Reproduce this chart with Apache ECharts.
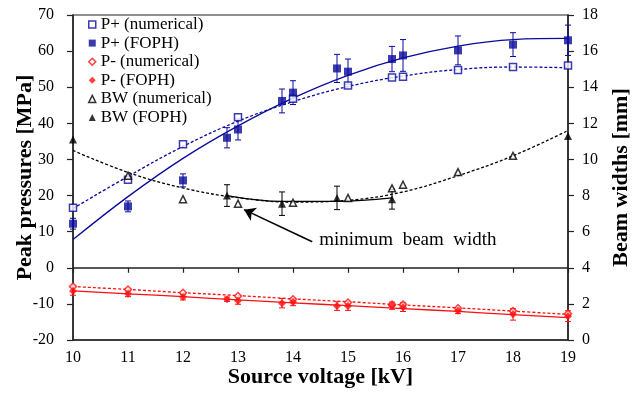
<!DOCTYPE html>
<html>
<head>
<meta charset="utf-8">
<script src="https://cdn.jsdelivr.net/npm/echarts@6/dist/echarts.min.js"></script>
<style>html,body{margin:0;padding:0;background:#fff;}#c{width:634px;height:401px;}</style>
</head>
<body>
<div id="c"></div>
<script>
// ---- Data ----
const voltsNum  = [10, 11, 12, 13, 14, 15, 15.8, 16, 17, 18, 19];
const voltsFoph = [10, 11, 12, 12.8, 13, 13.8, 14, 14.8, 15, 15.8, 16, 17, 18, 19];
const voltsFit  = [10, 11, 12, 13, 14, 15, 16, 17, 18, 19];

const pPlusNum   = [16.6, 24.4, 34.2, 41.7, 46.8, 50.5, 52.7, 52.9, 54.8, 55.6, 56.0];
const pPlusFoph  = [12.2, 17.0, 24.2, 36.0, 38.3, 46.2, 48.5, 55.2, 54.3, 57.8, 58.8, 60.2, 61.8, 63.0];
const pPlusFophErr = [1.5, 1.5, 1.8, 2.8, 2.9, 3.3, 3.3, 3.9, 3.5, 3.5, 4.4, 4.0, 3.3, 4.2];
const pPlusNumFit  = [16.4, 25.3, 33.6, 40.6, 46.0, 50.2, 53.1, 54.9, 55.6, 55.4];
const pPlusFophFit = [7.8, 19.7, 30.3, 39.3, 47.0, 53.3, 58.1, 61.4, 63.2, 63.5];

const pMinusNum  = [-5.2, -6.0, -6.9, -7.8, -8.7, -9.6, -10.2, -10.2, -11.2, -12.0, -12.7];
const pMinusFoph = [-6.4, -7.2, -8.1, -8.7, -9.1, -9.8, -9.5, -10.6, -10.6, -10.5, -10.9, -11.9, -12.9, -13.4];
const pMinusFophErr = [1.2, 0.8, 0.8, 0.6, 1.0, 1.3, 1.0, 1.2, 1.2, 1.0, 1.2, 0.8, 1.6, 1.5];
const pMinusNumFit  = [-5.2, -6.0, -6.9, -7.7, -8.6, -9.4, -10.3, -11.1, -12.0, -12.9];
const pMinusFophFit = [-6.4, -7.2, -8.0, -8.9, -9.7, -10.5, -11.3, -12.1, -13.0, -13.8];

const voltsBwNum = [11, 12, 13, 14, 15, 15.8, 16, 17, 18];
const bwNum      = [9.1, 7.8, 7.55, 7.6, 7.87, 8.4, 8.6, 9.3, 10.2];
const voltsBwFoph = [10, 12.8, 13.8, 14.8, 15.8, 19];
const bwFoph      = [11.1, 8.0, 7.55, 7.87, 7.8, 11.3];
const voltsBwErr  = [12.8, 13.8, 14.8, 15.8];
const bwErrMid    = [8.0, 7.55, 7.87, 7.8];
const bwErr       = [0.6, 0.65, 0.65, 0.55];
const bwNumFit  = [10.5, 9.28, 8.42, 7.88, 7.64, 7.74, 8.2, 9.1, 10.2, 11.6];
const voltsBwFit = [12.8, 13.8, 14.8, 15.8];
const bwFophFit = [8.0, 7.68, 7.68, 7.87];

const leftTicks  = {min: -20, max: 70, interval: 10};
const rightTicks = {min: 0, max: 18, interval: 2};
const xTicks     = {min: 10, max: 19, interval: 1};

const arrowTail = [14.35, 5.44];
const arrowHead = [13.11, 7.22];
const noteText = 'minimum  beam  width';

// ---- Styles ----
const BLUE = '#0a0a9c';
const RED = '#ff1010';
const BLACK = '#000';
const SERIF = "'Liberation Serif', 'Times New Roman', serif";

const zip = (xs, ys) => xs.map((x, i) => [x, ys[i]]);
const errData = (xs, ys, es) => xs.map((x, i) => [x, ys[i] - es[i], ys[i] + es[i]]);

function errSeries(name, data, color, yAxisIndex) {
  return {
    name: name, type: 'custom', yAxisIndex: yAxisIndex, z: 3,
    encode: {x: 0, y: [1, 2]},
    data: data,
    renderItem: function (params, api) {
      const x = api.value(0);
      const p1 = api.coord([x, api.value(1)]);
      const p2 = api.coord([x, api.value(2)]);
      const w = 3;
      const st = {stroke: color, lineWidth: 1};
      return {type: 'group', children: [
        {type: 'line', shape: {x1: p1[0], y1: p1[1], x2: p2[0], y2: p2[1]}, style: st},
        {type: 'line', shape: {x1: p1[0] - w, y1: p1[1], x2: p1[0] + w, y2: p1[1]}, style: st},
        {type: 'line', shape: {x1: p2[0] - w, y1: p2[1], x2: p2[0] + w, y2: p2[1]}, style: st}
      ]};
    }
  };
}
function fitSeries(name, xs, ys, color, dashed, yAxisIndex) {
  return {
    name: name, type: 'line', yAxisIndex: yAxisIndex, z: 2,
    data: zip(xs, ys), smooth: 0.4, showSymbol: false, symbol: 'none',
    lineStyle: {color: color, width: 1.3, type: dashed ? [3, 2] : 'solid'}
  };
}
function ptSeries(name, xs, ys, symbol, color, open, yAxisIndex, size) {
  return {
    name: name, type: 'scatter', yAxisIndex: yAxisIndex, z: 5,
    data: zip(xs, ys), symbol: symbol, symbolSize: size,
    itemStyle: open ? {color: '#fff', borderColor: color, borderWidth: 1.5} : {color: color}
  };
}

const chart = echarts.init(document.getElementById('c'), null, {renderer: 'canvas'});

const bwNumSeries = ptSeries('BW (numerical)', voltsBwNum, bwNum, 'triangle', BLACK, true, 1, 7);
bwNumSeries.markLine = {
  silent: true, animation: false,
  symbol: ['none', 'arrow'],
  symbolSize: 11,
  label: {show: false},
  lineStyle: {color: BLACK, width: 1.6, type: 'solid'},
  data: [[{coord: arrowTail}, {coord: arrowHead}]]
};

const titleFont = {fontFamily: SERIF, fontSize: 22, fontWeight: 'bold', color: '#000'};

const option = {
  animation: false,
  backgroundColor: '#fff',
  grid: {left: 73, right: 66, top: 15, bottom: 61, show: true, borderColor: '#222', borderWidth: 1.2,
         containLabel: false, outerBoundsMode: 'none'},
  legend: {
    orient: 'vertical', left: 83, top: 11, itemWidth: 7, itemHeight: 7, itemGap: 1.6,
    textStyle: {fontFamily: SERIF, fontSize: 17, color: '#000', lineHeight: 17},
    data: [
      {name: 'P+ (numerical)', icon: 'rect', itemStyle: {color: '#fff', borderColor: BLUE, borderWidth: 1.5}},
      {name: 'P+ (FOPH)', icon: 'rect', itemStyle: {color: BLUE}},
      {name: 'P- (numerical)', icon: 'diamond', itemStyle: {color: '#fff', borderColor: RED, borderWidth: 1.5}},
      {name: 'P- (FOPH)', icon: 'diamond', itemStyle: {color: RED}},
      {name: 'BW (numerical)', icon: 'triangle', itemStyle: {color: '#fff', borderColor: BLACK, borderWidth: 1.5}},
      {name: 'BW (FOPH)', icon: 'triangle', itemStyle: {color: BLACK}}
    ]
  },
  xAxis: [
    {
      type: 'value', min: xTicks.min, max: xTicks.max, interval: xTicks.interval, position: 'bottom',
      name: 'Source voltage [kV]', nameLocation: 'middle', nameGap: 26, nameMoveOverlap: false,
      nameTextStyle: titleFont,
      axisLine: {onZero: false, lineStyle: {color: '#222', width: 1.5}},
      axisTick: {show: false},
      axisLabel: {fontFamily: SERIF, fontSize: 16, color: '#000', margin: 10},
      splitLine: {show: false}
    },
    {
      type: 'value', min: xTicks.min, max: xTicks.max, interval: xTicks.interval, position: 'bottom',
      axisLine: {onZero: true, onZeroAxisIndex: 0, lineStyle: {color: '#222', width: 1.5}},
      axisTick: {show: true, inside: false, length: 5, lineStyle: {color: '#222', width: 1.2}},
      axisLabel: {show: false},
      splitLine: {show: false}
    }
  ],
  yAxis: [
    {
      type: 'value', min: leftTicks.min, max: leftTicks.max, interval: leftTicks.interval, position: 'left',
      name: 'Peak pressures [MPa]', nameLocation: 'middle', nameGap: 37, nameRotate: 90, nameMoveOverlap: false,
      nameTextStyle: titleFont,
      axisLine: {show: true, onZero: false, lineStyle: {color: '#222', width: 1.5}},
      axisTick: {show: true, length: 6, lineStyle: {color: '#222', width: 1.2}},
      axisLabel: {fontFamily: SERIF, fontSize: 16, color: '#000', margin: 19},
      splitLine: {show: false}
    },
    {
      type: 'value', min: rightTicks.min, max: rightTicks.max, interval: rightTicks.interval, position: 'right',
      name: 'Beam widths [mm]', nameLocation: 'middle', nameGap: 42, nameRotate: 90, nameMoveOverlap: false,
      nameTextStyle: titleFont,
      axisLine: {show: true, onZero: false, lineStyle: {color: '#222', width: 1.5}},
      axisTick: {show: true, length: 6, lineStyle: {color: '#222', width: 1.2}},
      axisLabel: {fontFamily: SERIF, fontSize: 16, color: '#000', margin: 14},
      splitLine: {show: false}
    }
  ],
  graphic: [],
  series: [
    fitSeries('fitPpNum', voltsFit, pPlusNumFit, BLUE, true, 0),
    fitSeries('fitPpFoph', voltsFit, pPlusFophFit, BLUE, false, 0),
    fitSeries('fitPmNum', voltsFit, pMinusNumFit, RED, true, 0),
    fitSeries('fitPmFoph', voltsFit, pMinusFophFit, RED, false, 0),
    fitSeries('fitBwNum', voltsFit, bwNumFit, BLACK, true, 1),
    fitSeries('fitBwFoph', voltsBwFit, bwFophFit, BLACK, false, 1),
    errSeries('errPp', errData(voltsFoph, pPlusFoph, pPlusFophErr), BLUE, 0),
    errSeries('errPm', errData(voltsFoph, pMinusFoph, pMinusFophErr), RED, 0),
    errSeries('errBw', errData(voltsBwErr, bwErrMid, bwErr), BLACK, 1),
    ptSeries('P+ (numerical)', voltsNum, pPlusNum, 'rect', BLUE, true, 0, 7),
    ptSeries('P+ (FOPH)', voltsFoph, pPlusFoph, 'rect', BLUE, false, 0, 8),
    ptSeries('P- (numerical)', voltsNum, pMinusNum, 'diamond', RED, true, 0, 7),
    ptSeries('P- (FOPH)', voltsFoph, pMinusFoph, 'diamond', RED, false, 0, 8),
    bwNumSeries,
    ptSeries('BW (FOPH)', voltsBwFoph, bwFoph, 'triangle', BLACK, false, 1, 8)
  ]
};
chart.setOption(option);

// annotation text placed next to the arrow tail (converted through the axes)
const tailPx = chart.convertToPixel({gridIndex: 0, xAxisIndex: 0, yAxisIndex: 1}, arrowTail);
chart.setOption({graphic: [{
  type: 'text', left: tailPx[0] + 7, top: tailPx[1] - 11,
  style: {text: noteText, font: "19px 'Liberation Serif', serif", fill: '#000'}
}]});
</script>
</body>
</html>
